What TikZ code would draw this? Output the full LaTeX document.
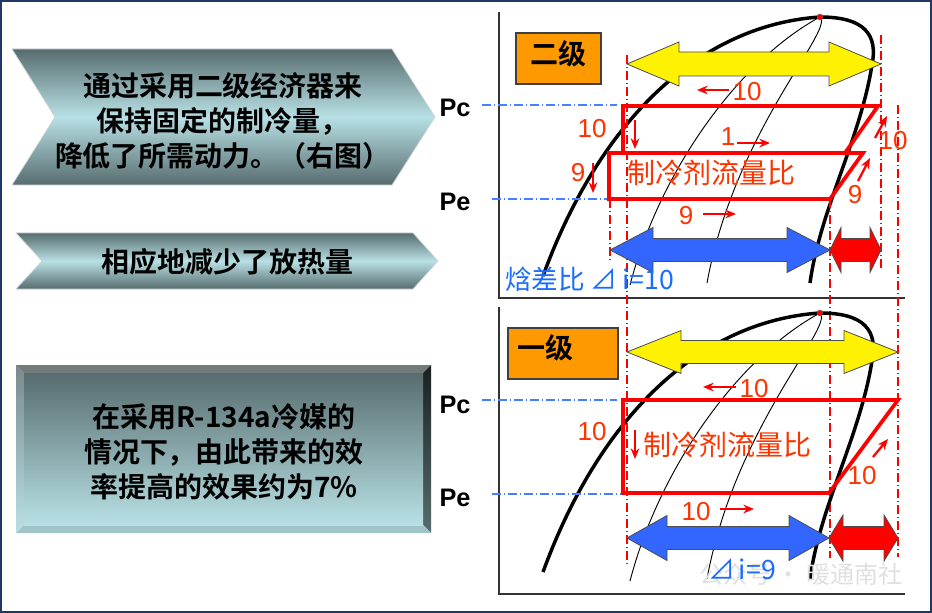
\documentclass[tikz,border=0pt]{standalone}
\usepackage{fontspec}
\setmainfont{Liberation Sans}
\newfontfamily\cjk{Noto Sans CJK SC}[BoldFont={Noto Sans CJK SC Bold}]
\usetikzlibrary{arrows.meta}
\definecolor{framenavy}{HTML}{1F3864}
\definecolor{slate}{HTML}{576C6E}
\definecolor{icecyan}{HTML}{B8E1E5}
\definecolor{lblred}{HTML}{FF3300}
\definecolor{dashblue}{HTML}{4A7EFF}
\definecolor{arrblue}{HTML}{3366FF}
\definecolor{txtblue}{HTML}{1A6CFF}
\definecolor{boxorange}{HTML}{FF9900}

% broad double arrow: xl, xr, y, shaft half, head half, head length, fill
\newcommand{\dblarrow}[7]{%
  \filldraw[fill=#7, draw=black!70, line width=0.6pt]
    (#1,#3) -- ({#1+#6},{#3-#5}) -- ({#1+#6},{#3-#4}) -- ({#2-#6},{#3-#4})
    -- ({#2-#6},{#3-#5}) -- (#2,#3) -- ({#2-#6},{#3+#5}) -- ({#2-#6},{#3+#4})
    -- ({#1+#6},{#3+#4}) -- ({#1+#6},{#3+#5}) -- cycle;}

% saturation dome with two thin lines
\newcommand{\phdome}{%
  \draw[dome] (543,276) .. controls (600,120) and (700,25) .. (820,17)
     .. controls (865,17) and (878,35) .. (872,65)
     .. controls (860,140) and (820,210) .. (810,283);
  \draw[isoline] (820,17) .. controls (740,60) and (660,170) .. (630,285);
  \draw[isoline] (820,17) .. controls (835,30) and (735,130) .. (707,283);
  \filldraw[fill=red, draw=black!60, line width=0.3pt] (820,17) circle[radius=3];}

\begin{document}
\begin{tikzpicture}[
    x=0.75pt, y=-0.75pt,
    dome/.style={line width=2.6pt},
    isoline/.style={line width=0.7pt},
    cycleline/.style={red, line width=2.8pt, line join=miter},
    guide/.style={red, line width=0.8pt, dash pattern=on 7pt off 2pt on 1pt off 2pt},
    pline/.style={dashblue, line width=0.8pt, dash pattern=on 7pt off 2pt on 1pt off 2pt},
    flow/.style={red, line width=1.7pt, -{Stealth[length=8pt, width=6.5pt]}},
    num/.style={text=lblred, font=\fontsize{19.5}{19.5}\selectfont, inner sep=0pt},
    plabel/.style={font=\bfseries\fontsize{19}{19}\selectfont, inner sep=0pt},
    stage/.style={draw=black!75, fill=boxorange, line width=0.8pt},
    bigtext/.style={font=\cjk\bfseries\fontsize{21}{26}\selectfont, align=center, inner sep=0pt},
    ratio/.style={text=lblred, font=\cjk\fontsize{21}{21}\selectfont, inner sep=0pt},
    dtext/.style={text=txtblue, font=\cjk\fontsize{20}{20}\selectfont, inner sep=0pt}
]
    \useasboundingbox (0,0) rectangle (932,613);
    \fill[white] (0,0) rectangle (932,613);

    % Left panel
    \shadedraw[top color=slate, bottom color=slate, middle color=icecyan, draw=white!70!slate, line width=0.5pt]
      (12,49) -- (392,49) -- (435,117) -- (392,185) -- (12,185) -- (55,117) -- cycle;
    \shadedraw[top color=slate, bottom color=slate, middle color=icecyan, draw=white!70!slate, line width=0.5pt]
      (16,233) -- (413,233) -- (438,261) -- (413,289) -- (16,289) -- (42,261) -- cycle;
    \fill[gray!70!slate] (16,365) -- (431,365) -- (423,373) -- (24,373) -- cycle;
    \shade[top color=slate!80!white, bottom color=icecyan] (16,365) -- (24,373) -- (24,525) -- (16,533) -- cycle;
    \shade[top color=black!70!slate, bottom color=slate] (431,365) -- (431,533) -- (423,525) -- (423,373) -- cycle;
    \fill[icecyan!75!slate] (16,533) -- (431,533) -- (423,525) -- (24,525) -- cycle;
    \shade[top color=slate, bottom color=icecyan] (24,373) rectangle (423,525);

    \node[bigtext] (econ) at (223,121) {通过采用二级经济器来\\保持固定的制冷量，\\降低了所需动力。（右图）};
    \node[bigtext] (heat) at (227,262) {相应地减少了放热量};
    \node[bigtext] (gain) at (224,452) {在采用R-134a冷媒的\\情况下，由此带来的效\\率提高的效果约为7\%};

    % Two-stage chart
    \phdome
    \draw[black!80, line width=1.2pt] (499,12) -- (499,298) -- (905,298);
    \draw[guide] (627,55) -- (627,565);
    \draw[guide] (610,199) -- (610,263);
    \draw[guide] (830,199) -- (830,558);
    \draw[guide] (881,35) -- (881,270);
    \draw[guide] (898,105) -- (898,557);
    \draw[pline] (482,105) -- (617,105);
    \draw[pline] (492,199) -- (610,199);
    \draw[cycleline] (623,153) -- (623,106) -- (878,106) -- (845,153);
    \draw[cycleline] (609,153) -- (863,153) -- (830,199) -- (609,199) -- cycle;
    \dblarrow{627}{881}{64}{12}{22}{52}{yellow}
    \dblarrow{610}{830}{250}{11.5}{22.5}{43}{arrblue}
    \dblarrow{830}{881}{250}{11.5}{22.5}{11}{red}

    \draw[stage] (516,33) rectangle (601,84);
    \node[font=\cjk\bfseries\fontsize{21}{21}\selectfont, inner sep=0pt] (two) at (558,54) {二级};
    \node[plabel] (pc2) at (455,108) {Pc};
    \node[plabel] (pe2) at (455,202) {Pe};

    \draw[flow] (729,90) -- (697,90);
    \node[num] (t1) at (747,92) {10};
    \node[num] (t2) at (592,129) {10};
    \draw[flow] (635,120) -- (635,149);
    \node[num] (t3) at (728,137) {1};
    \draw[flow] (737,143) -- (770,143);
    \draw[flow] (875,138) -- (887,116);
    \node[num] (t4) at (893,141) {10};
    \node[num] (t5) at (578,173) {9};
    \draw[flow] (593,163) -- (593,193);
    \node[ratio] (flow2) at (711,173) {制冷剂流量比};
    \draw[flow] (858,181) -- (870,158);
    \node[num] (t6) at (855,195) {9};
    \node[num] (t7) at (686,216) {9};
    \draw[flow] (703,214) -- (736,214);
    \node[dtext, anchor=west] (dh2) at (505,279) {焓差比\hspace{4pt}⊿\hspace{4pt}i=10};

    % One-stage chart
    \begin{scope}[shift={(0,296)}]
      \phdome
    \end{scope}
    \draw[black!80, line width=1.2pt] (499,307) -- (499,594) -- (905,594);
    \draw[pline] (482,400) -- (617,400);
    \draw[pline] (492,494) -- (623,494);
    \draw[cycleline] (623,400) -- (898,400) -- (829,493) -- (623,493) -- cycle;
    \dblarrow{627}{898}{352}{11.5}{21.5}{54}{yellow}
    \dblarrow{627}{829}{538}{11.5}{22.5}{40}{arrblue}
    \dblarrow{829}{898}{538}{11.5}{23}{14}{red}

    \draw[stage] (508,328) rectangle (618,379);
    \node[font=\cjk\bfseries\fontsize{21}{21}\selectfont, inner sep=0pt] (one) at (545,348) {一级};
    \node[plabel] (pc1) at (455,405) {Pc};
    \node[plabel] (pe1) at (455,498) {Pe};

    \draw[flow] (736,387) -- (703,387);
    \node[num] (b1) at (754,389) {10};
    \node[num] (b2) at (592,432) {10};
    \draw[flow] (635,430) -- (635,459);
    \node[ratio] (flow1) at (727,445) {制冷剂流量比};
    \draw[flow] (873,457) -- (888,439);
    \node[num] (b3) at (862,476) {10};
    \node[num] (b4) at (696,512) {10};
    \draw[flow] (720,509) -- (754,509);
    \node[text=black!12, font=\cjk\fontsize{18}{18}\selectfont, inner sep=0pt] (mark) at (801,574) {公众号 · 暖通南社};
    \node[dtext] (dh1) at (742,569) {⊿\hspace{3pt}i=9};

    % frame
    \draw[framenavy, line width=1.8pt] (1,1) rectangle (931,612);
\end{tikzpicture}
\end{document}
